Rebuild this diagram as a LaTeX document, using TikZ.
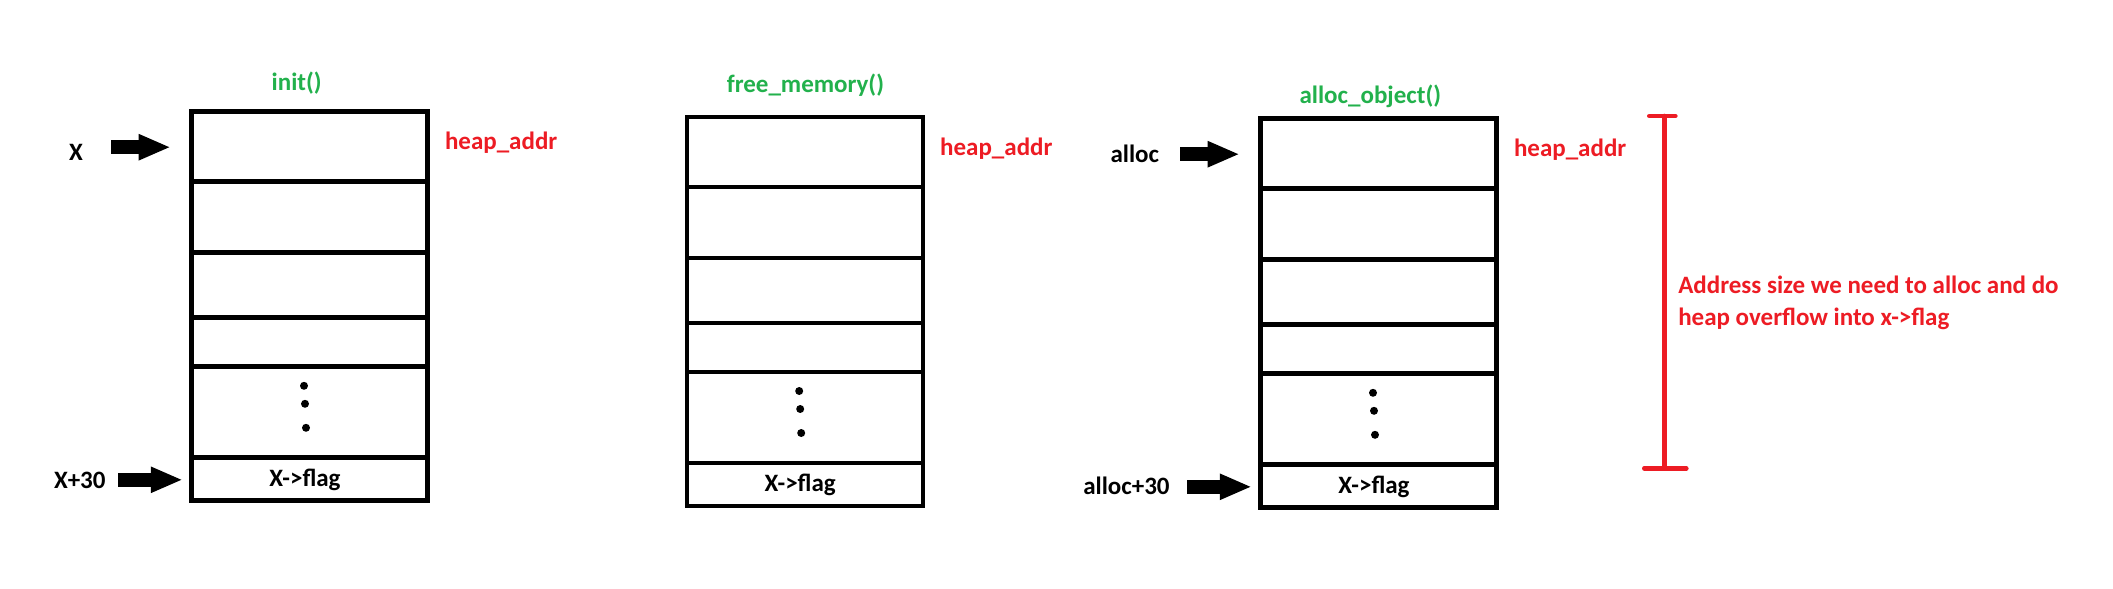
\documentclass[tikz,border=0pt]{standalone}
\usepackage{fontspec}
\setmainfont{Carlito}
\usetikzlibrary{arrows.meta}
\definecolor{paintgreen}{RGB}{34,177,76}
\definecolor{paintred}{RGB}{237,28,36}
\tikzstyle{lbl}=[inner sep=0pt, outer sep=0pt, font=\fontsize{25}{32}\selectfont\bfseries, anchor=base west]
\tikzstyle{cell}=[line width=4.3pt]
\tikzstyle{ptr}=[line width=14pt, -{Triangle[length=32pt,width=24pt]}]
\tikzstyle{span}=[line width=4.6pt, draw=paintred, line cap=round]

\begin{document}
\begin{tikzpicture}[x=1pt, y=-1pt]
  \useasboundingbox[fill=white] (0,0) rectangle (2113,589);
  \foreach \bx/\by/\nm in {191.5/111.5/a, 686.7/116.7/b, 1260.5/118.5/c}{
    \draw[cell] (\bx,\by) rectangle +(236,389);
    \foreach \r in {70,141,206,255,346}
      \draw[cell] (\bx,\by+\r) -- +(236,0);
    \foreach \dx/\dy in {112.5/274.3, 113.5/292.3, 114.5/316.3}
      \fill (\bx+\dx,\by+\dy) circle (4pt);
    \node[lbl, anchor=base] (flag\nm) at (\bx+113.5,\by+375.2) {X->flag};
    \node[lbl, text=paintred] (heap\nm) at (\bx+253.5,\by+38.4) {heap\_addr};
    \coordinate (ptr\nm) at (\bx-80.5,\by+35.7);
    \coordinate (in\nm) at (\bx-20.8,\by+35.7);
    \coordinate (flagptr\nm) at (\bx-73.3,\by+368.3);
    \coordinate (flagin\nm) at (\bx-8.7,\by+368.3);
  }
  \node[lbl, anchor=base, text=paintgreen] (init) at (296.7,90) {init()};
  \node[lbl, anchor=base, text=paintgreen] (free) at (805.5,92.3) {free\_memory()};
  \node[lbl, anchor=base, text=paintgreen] (allocobj) at (1370.3,103.3) {alloc\_object()};

  \node[lbl] (xlbl) at (69,160.7) {X};
  \node[lbl] (xplus) at (54,488.3) {X+30};
  \node[lbl] (alloclbl) at (1110.5,162.7) {alloc};
  \node[lbl] (allocplus) at (1083.3,494.3) {alloc+30};
  \draw[ptr] (ptra) -- (ina);
  \draw[ptr] (flagptra) -- (flagina);
  \draw[ptr] (ptrc) -- (inc);
  \draw[ptr] (flagptrc) -- (flaginc);

  \coordinate (spantop) at (1664.3,116);
  \coordinate (spanbot) at (1664.3,468.3);
  \draw[span] (spantop) -- (spanbot);
  \draw[span] ([xshift=-15pt]spantop) -- ([xshift=11pt]spantop);
  \draw[span] ([xshift=-20pt]spanbot) -- ([xshift=22pt]spanbot);
  \node[lbl, text=paintred, align=left] (note) at (1678.3,325)
    {Address size we need to alloc and do\\heap overflow into x->flag};
\end{tikzpicture}
\end{document}
